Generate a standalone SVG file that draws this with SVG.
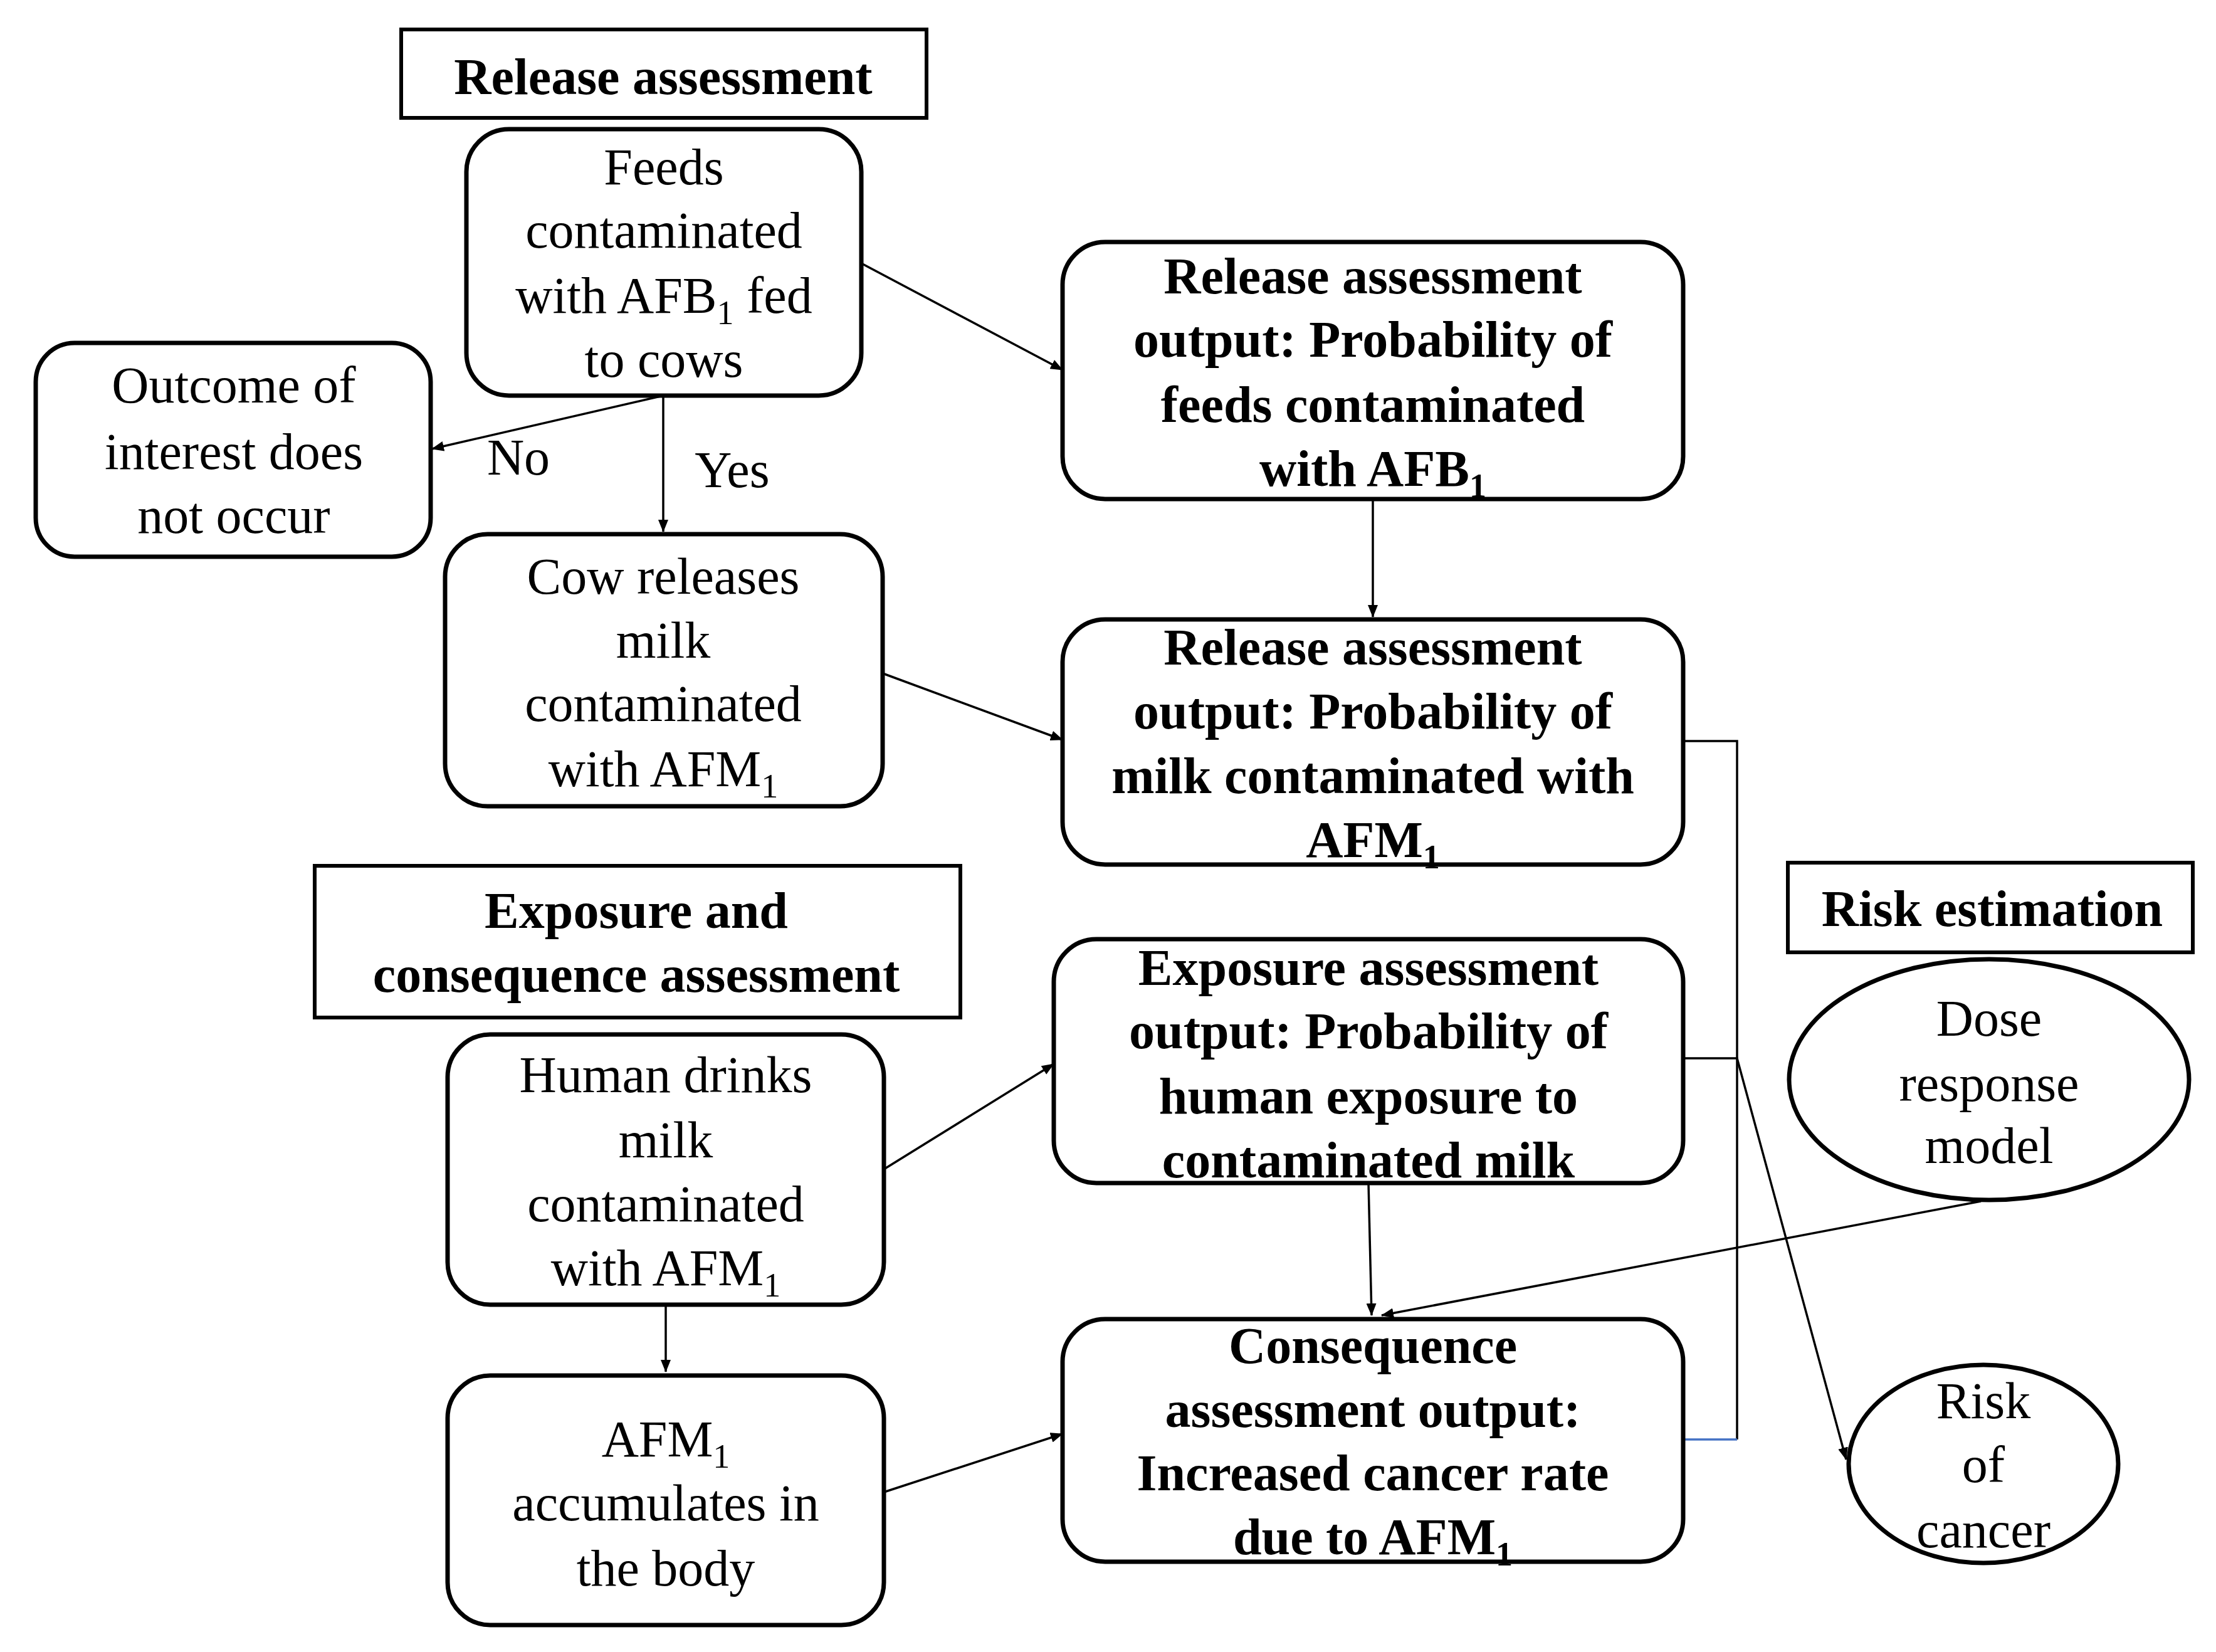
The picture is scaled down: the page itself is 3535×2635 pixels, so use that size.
<svg xmlns="http://www.w3.org/2000/svg" width="3535" height="2635" viewBox="0 0 3535 2635">
<defs>
<marker id="ah" markerWidth="20" markerHeight="16" refX="19" refY="8" orient="auto" markerUnits="userSpaceOnUse" viewBox="0 0 20 16"><path d="M0,0 L20,8 L0,16 z" fill="#000"/></marker>
<style>
.b{fill:#fff;stroke:#000;stroke-width:7}
.h{fill:#fff;stroke:#000;stroke-width:6}
text{font-family:"Liberation Serif",serif;font-size:82px;text-anchor:middle;fill:#000}
.bd{font-weight:bold}
.c{fill:none;stroke:#000;stroke-width:3.5}
.s{font-size:54px}
</style>
</defs>
<rect width="3535" height="2635" fill="#fff"/>
<g id="connectors">
<line class="c" x1="1374" y1="420" x2="1695" y2="590" marker-end="url(#ah)"/>
<line class="c" x1="1058" y1="631" x2="689" y2="716" marker-end="url(#ah)"/>
<line class="c" x1="1058" y1="631" x2="1058" y2="848" marker-end="url(#ah)"/>
<line class="c" x1="2190" y1="796" x2="2190" y2="984" marker-end="url(#ah)"/>
<line class="c" x1="1408" y1="1074" x2="1695" y2="1180" marker-end="url(#ah)"/>
<polyline class="c" points="2685,1182 2771,1182 2771,2296"/>
<line x1="2771" y1="2296" x2="2688" y2="2296" stroke="#4472c4" stroke-width="3.5"/>
<polyline class="c" points="2685,1688 2771,1688 2945,2328" marker-end="url(#ah)"/>
<line class="c" x1="1410" y1="1865" x2="1681" y2="1697" marker-end="url(#ah)"/>
<line class="c" x1="2183" y1="1887" x2="2188" y2="2098" marker-end="url(#ah)"/>
<line class="c" x1="3160" y1="1916" x2="2204" y2="2098" marker-end="url(#ah)"/>
<line class="c" x1="1062" y1="2081" x2="1062" y2="2188" marker-end="url(#ah)"/>
<line class="c" x1="1410" y1="2380" x2="1695" y2="2287" marker-end="url(#ah)"/>
<text x="827" y="757">No</text>
<text x="1168" y="777">Yes</text>
</g>
<g id="hdr-release"><rect class="h" x="640" y="47" width="838" height="141"/><text class="bd" x="1058" y="150">Release assessment</text></g>
<g id="feeds"><rect class="b" x="744" y="206" width="630" height="425" rx="68"/>
<text x="1059" y="294">Feeds</text><text x="1059" y="395">contaminated</text><text x="1059" y="499">with AFB<tspan class="s" dy="18">1</tspan><tspan dy="-18"> fed</tspan></text><text x="1059" y="601">to cows</text></g>
<g id="outcome"><rect class="b" x="57" y="547" width="630" height="341" rx="62"/>
<text x="373" y="642">Outcome of</text><text x="373" y="748">interest does</text><text x="373" y="850">not occur</text></g>
<g id="cow"><rect class="b" x="710" y="852" width="698" height="434" rx="68"/>
<text x="1058" y="947">Cow releases</text><text x="1058" y="1049">milk</text><text x="1058" y="1150">contaminated</text><text x="1058" y="1254">with AFM<tspan class="s" dy="18">1</tspan></text></g>
<g id="rel1"><rect class="b" x="1695" y="386" width="990" height="410" rx="68"/>
<text class="bd" x="2190" y="468">Release assessment</text><text class="bd" x="2190" y="569">output: Probability of</text><text class="bd" x="2190" y="673">feeds contaminated</text><text class="bd" x="2190" y="775">with AFB<tspan class="s" dy="18">1</tspan></text></g>
<g id="rel2"><rect class="b" x="1695" y="988" width="990" height="391" rx="68"/>
<text class="bd" x="2190" y="1060">Release assessment</text><text class="bd" x="2190" y="1162">output: Probability of</text><text class="bd" x="2190" y="1265">milk contaminated with</text><text class="bd" x="2190" y="1367">AFM<tspan class="s" dy="18">1</tspan></text></g>
<g id="hdr-exposure"><rect class="h" x="502" y="1381" width="1030" height="242"/><text class="bd" x="1015" y="1480">Exposure and</text><text class="bd" x="1015" y="1582">consequence assessment</text></g>
<g id="exposure"><rect class="b" x="1681" y="1498" width="1004" height="389" rx="68"/>
<text class="bd" x="2183" y="1571">Exposure assessment</text><text class="bd" x="2183" y="1672">output: Probability of</text><text class="bd" x="2183" y="1776">human exposure to</text><text class="bd" x="2183" y="1878">contaminated milk</text></g>
<g id="human"><rect class="b" x="714" y="1650" width="696" height="431" rx="68"/>
<text x="1062" y="1742">Human drinks</text><text x="1062" y="1846">milk</text><text x="1062" y="1948">contaminated</text><text x="1062" y="2050">with AFM<tspan class="s" dy="18">1</tspan></text></g>
<g id="accum"><rect class="b" x="714" y="2194" width="696" height="398" rx="68"/>
<text x="1062" y="2323">AFM<tspan class="s" dy="18">1</tspan></text><text x="1062" y="2425">accumulates in</text><text x="1062" y="2529">the body</text></g>
<g id="consequence"><rect class="b" x="1695" y="2104" width="990" height="387" rx="68"/>
<text class="bd" x="2190" y="2174">Consequence</text><text class="bd" x="2190" y="2276">assessment output:</text><text class="bd" x="2190" y="2377">Increased cancer rate</text><text class="bd" x="2190" y="2479">due to AFM<tspan class="s" dy="18">1</tspan></text></g>
<g id="hdr-risk"><rect class="h" x="2852" y="1376" width="646" height="143"/><text class="bd" x="3178" y="1477">Risk estimation</text></g>
<g id="dose"><ellipse class="b" cx="3173" cy="1722" rx="319" ry="192"/>
<text x="3173" y="1652">Dose</text><text x="3173" y="1756">response</text><text x="3173" y="1855">model</text></g>
<g id="cancer"><ellipse class="b" cx="3164" cy="2335" rx="215" ry="158"/>
<text x="3164" y="2262">Risk</text><text x="3164" y="2364">of</text><text x="3164" y="2468">cancer</text></g>
</svg>
